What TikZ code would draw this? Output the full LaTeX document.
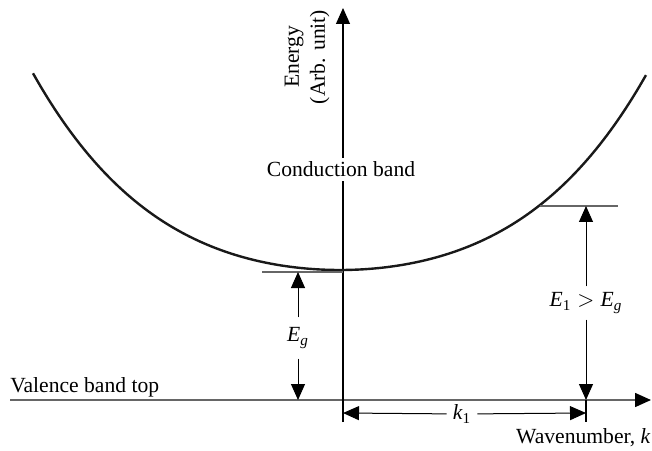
\documentclass[tikz,border=0pt]{standalone}
\usepackage{amsmath}
\usepackage{fontspec}
\setmainfont{Liberation Serif}
\usetikzlibrary{arrows.meta,positioning}
\newcommand{\ital}[1]{\textit{#1}}
\tikzset{
  every node/.style={font=\fontsize{10.8}{13}\selectfont},
  axis line/.style={-{Triangle[length=8pt,width=7pt,color=black]}, line width=0.6pt},
  dim arrow/.style={-{Triangle[length=8pt,width=7pt]}, line width=0.5pt},
  level line/.style={draw=black!60, line width=0.8pt},
  band curve/.style={line width=1.2pt, draw=black!90},
  gap label/.style={inner sep=3pt}
}
\begin{document}
\begin{tikzpicture}[x=0.5pt,y=0.5pt, line cap=butt]
  \useasboundingbox (0,0) rectangle (652,450);

  % ===== axes =====
  \coordinate (k left)  at (10,50);
  \coordinate (k right) at (651,50);
  \coordinate (E bot)   at (343,28);
  \coordinate (E top)   at (343,442);
  \draw[axis line, draw=black!60, line width=0.8pt] (k left) -- (k right);
  \draw[axis line] (E bot) -- (E top);

  % ===== conduction band (E-k curve) =====
  \draw[band curve] plot[domain=-3.07:3.06, samples=80, smooth]
    ({340+100*\x}, {180+12.84*\x*\x+0.852*\x*\x*\x*\x});

  % ===== texts =====
  \node[anchor=base west, inner sep=0pt] (vb) at (10,58) {Valence band top};
  \node[anchor=base, fill=white, inner sep=2pt] (cb) at (341,273) {Conduction band};
  \node[anchor=base east, inner sep=0pt] (kaxis) at (651,7) {Wavenumber, \ital{k}};
  \node[rotate=90, align=center] (Eaxis) at (307,393) {Energy\\(Arb. unit)};

  % ===== band gap E_g =====
  \coordinate (Eg a) at (262,178);
  \coordinate (Eg b) at (343,178);
  \draw[level line] (Eg a) -- (Eg b);
  \coordinate (Eg top) at (298,178);
  \coordinate (Eg bot) at (298,50);
  \node[inner sep=5pt] (Eg) at (298,112) {$\ital{E}_{\ital{g}}$};
  \draw[dim arrow] (Eg) -- (Eg top);
  \draw[dim arrow] (Eg) -- (Eg bot);

  % ===== energy E_1 at k_1 =====
  \coordinate (E1 a) at (540,244);
  \coordinate (E1 b) at (618,244);
  \draw[level line] (E1 a) -- (E1 b);
  \coordinate (E1 top) at (586,244);
  \coordinate (E1 bot) at (586,50);
  \node[gap label] (E1) at (586,147) {$\ital{E}_{\textrm{1}} > \ital{E}_{\ital{g}}$};
  \draw[dim arrow] (E1) -- (E1 top);
  \draw[dim arrow] (E1) -- (E1 bot);

  % ===== wavenumber k_1 =====
  \coordinate (k1 tick a) at (586,50);
  \coordinate (k1 tick b) at (586,28);
  \draw[line width=0.6pt] (k1 tick a) -- (k1 tick b);
  \coordinate (k1 left)  at (343,37);
  \coordinate (k1 right) at (586,37);
  \node[gap label] (k1) at (462,36) {$\ital{k}_{\textrm{1}}$};
  \draw[dim arrow] (k1) -- (k1 left);
  \draw[dim arrow] (k1) -- (k1 right);
\end{tikzpicture}
\end{document}
